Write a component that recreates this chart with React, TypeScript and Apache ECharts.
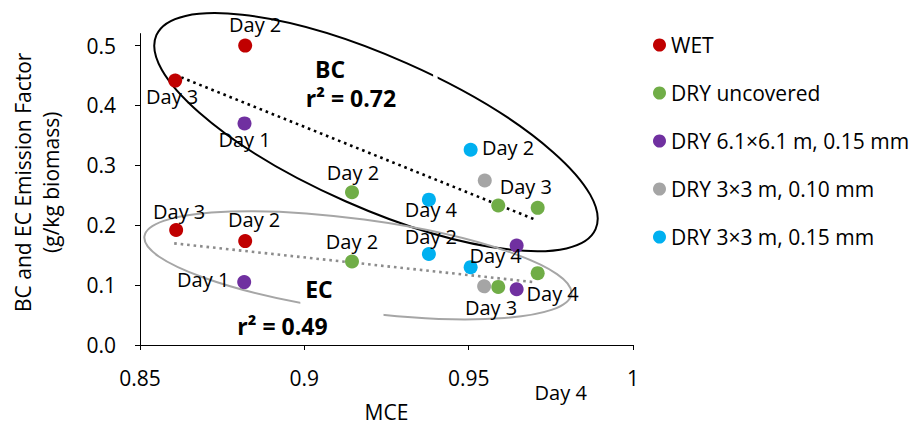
import React, { useEffect, useRef } from "react";
import * as echarts from "echarts";

const FONT = '"Open Sans", "Noto Sans", sans-serif';

const seriesNames = [
  "WET",
  "DRY uncovered",
  "DRY 6.1×6.1 m, 0.15 mm",
  "DRY 3×3 m, 0.10 mm",
  "DRY 3×3 m, 0.15 mm",
];
const seriesColors = ["#C00000", "#70AD47", "#7030A0", "#A5A5A5", "#00B0F0"];

// [MCE, emission factor]
const wetPoints = [[0.882, 0.5], [0.8607, 0.4415], [0.861, 0.192], [0.882, 0.1735]];
const wetLabels = ["Day 2", "Day 3", "Day 3", "Day 2"];
const uncoveredPoints = [[0.9145, 0.255], [0.959, 0.233], [0.971, 0.229], [0.9145, 0.1395], [0.971, 0.12], [0.959, 0.097]];
const uncoveredLabels = ["Day 2", "", "", "Day 2", "Day 4", ""];
const dry61Points = [[0.8818, 0.37], [0.9646, 0.166], [0.8817, 0.105], [0.9646, 0.093]];
const dry61Labels = ["Day 1", "Day 4", "Day 1", "Day 4"];
const dry3x010Points = [[0.9549, 0.2746], [0.9547, 0.098]];
const dry3x010Labels = ["Day 3", "Day 3"];
const dry3x015Points = [[0.9506, 0.326], [0.9379, 0.2427], [0.9379, 0.152], [0.9506, 0.13]];
const dry3x015Labels = ["Day 2", "Day 4", "Day 2", ""];

const bcTrend = [[0.8607, 0.451], [0.9701, 0.2097]];
const ecTrend = [[0.8604, 0.1697], [0.9699, 0.105]];

const xTicks = [0.85, 0.9, 0.95, 1];
const yTicks = [0, 0.1, 0.2, 0.3, 0.4, 0.5];

// label placement (pixel offsets from the marker centre)
const wetLabelOffsets = [[10, -21], [-3, 16], [3, -19], [9, -22]];
const uncoveredLabelOffsets = [[1, -20], null, null, [0, -20], [23, 119], null];
const dry61LabelOffsets = [[0, 16], [-21, 10], [-41, -3], [36, 4]];
const dry3x010LabelOffsets = [[41, 6], [7, 21]];
const dry3x015LabelOffsets = [[37.5, -2], [2, 10], [2, -17], null];

// grouping ellipses (annotation shapes)
const ellipseShapes = [
  { center: [0.9218, 0.3554], rx: 240, ry: 75.5, angle: 23.8, color: "#000000", gaps: [[0.93918, 0.4534, 0.94055, 0.4336]] },
  { center: [0.9163, 0.1331], rx: 215.4, ry: 46.1, angle: 7.7, color: "#A6A6A6", gaps: [[0.89878, 0.0812, 0.92409, 0.0071]] },
];

const allPoints = [wetPoints, uncoveredPoints, dry61Points, dry3x010Points, dry3x015Points];
const allLabels = [wetLabels, uncoveredLabels, dry61Labels, dry3x010Labels, dry3x015Labels];
const allOffsets = [wetLabelOffsets, uncoveredLabelOffsets, dry61LabelOffsets, dry3x010LabelOffsets, dry3x015LabelOffsets];

export default function App() {
  const ref = useRef<HTMLDivElement>(null);
  useEffect(() => {
    if (!ref.current) return;
    const chart = echarts.init(ref.current, undefined, { renderer: "svg" });

    const scatterSeries = seriesNames.map((name, si) => ({
      name,
      type: "scatter",
      z: 3,
      symbol: "circle",
      symbolSize: 14,
      itemStyle: { color: seriesColors[si], opacity: 1 },
      data: allPoints[si].map((p, i) => {
        const txt = allLabels[si][i];
        const off = allOffsets[si][i];
        return {
          value: p,
          label: txt
            ? {
                show: true,
                formatter: txt,
                position: "inside",
                offset: off || [0, 0],
                color: "#000",
                fontSize: 20,
                lineHeight: 19,
                fontFamily: FONT,
              }
            : { show: false },
        };
      }),
    }));

    const trendStyle = (color: string) => ({
      color,
      width: 2.6,
      type: [2.6, 3.9],
      cap: "butt",
    });

    const noteStyle = (text: string) => ({
      text,
      fontSize: 23,
      lineHeight: 22,
      fontWeight: "bold",
      fontFamily: FONT,
      fill: "#000",
      align: "center",
      verticalAlign: "middle",
    });

    chart.setOption({
      animation: false,
      backgroundColor: "#ffffff",
      textStyle: { fontFamily: FONT },
      grid: { left: 140, right: 289, top: 33.6, bottom: 77.7, containLabel: false },
      legend: {
        data: seriesNames,
        orient: "vertical",
        left: 648,
        top: 28,
        icon: "circle",
        itemWidth: 13,
        itemHeight: 13,
        itemGap: 24,
        itemStyle: { opacity: 1 },
        textStyle: { fontSize: 21, lineHeight: 24, color: "#000", fontFamily: FONT },
      },
      xAxis: {
        type: "value",
        min: 0.85,
        max: 1,
        interval: 0.05,
        name: "MCE",
        nameLocation: "middle",
        nameGap: 56,
        nameTextStyle: { fontSize: 21, color: "#000", fontFamily: FONT },
        axisLine: { show: true, lineStyle: { color: "#000", width: 1 } },
        axisTick: { show: true, length: 5, lineStyle: { color: "#000" } },
        axisLabel: { margin: 22, fontSize: 21, color: "#000", fontFamily: FONT, customValues: xTicks },
        splitLine: { show: false },
      },
      yAxis: {
        type: "value",
        min: 0,
        max: 0.52,
        interval: 0.1,
        name: "BC and EC Emission Factor\n(g/kg biomass)",
        nameLocation: "middle",
        nameRotate: 90,
        nameGap: 75,
        nameTextStyle: { fontSize: 21, lineHeight: 28, color: "#000", fontFamily: FONT, padding: [0, 0, 0, 14] },
        axisLine: { show: true, lineStyle: { color: "#000", width: 1 } },
        axisTick: { show: true, length: 5, lineStyle: { color: "#000" }, customValues: yTicks },
        axisLabel: {
          margin: 24,
          fontSize: 21,
          color: "#000",
          fontFamily: FONT,
          customValues: yTicks,
          formatter: (v: number) => v.toFixed(1),
        },
        splitLine: { show: false },
      },
      graphic: [
        { type: "text", z: 10, x: 330, y: 69, style: noteStyle("BC") },
        { type: "text", z: 10, x: 351, y: 98, style: noteStyle("r² = 0.72") },
        { type: "text", z: 10, x: 319, y: 289, style: noteStyle("EC") },
        { type: "text", z: 10, x: 282.5, y: 326, style: noteStyle("r² = 0.49") },
      ],
      series: [
        {
          name: "ellipses",
          type: "custom",
          z: 1,
          clip: false,
          silent: true,
          coordinateSystem: "cartesian2d",
          encode: { x: 0, y: 1 },
          data: ellipseShapes.map((e) => [e.center[0], e.center[1]]),
          renderItem: (params: any, api: any) => {
            const e = ellipseShapes[params.dataIndex];
            const c = api.coord(e.center);
            const children: any[] = [
              {
                type: "ellipse",
                x: c[0],
                y: c[1],
                rotation: (-e.angle * Math.PI) / 180,
                shape: { cx: 0, cy: 0, rx: e.rx, ry: e.ry },
                style: { fill: "none", stroke: e.color, lineWidth: 2 },
              },
            ];
            e.gaps.forEach((g) => {
              const p0 = api.coord([g[0], g[1]]);
              const p1 = api.coord([g[2], g[3]]);
              children.push({
                type: "rect",
                shape: { x: p0[0], y: p0[1], width: p1[0] - p0[0], height: p1[1] - p0[1] },
                style: { fill: "#ffffff" },
              });
            });
            return { type: "group", children };
          },
        },
        {
          name: "BC trend",
          type: "line",
          z: 2,
          symbol: "none",
          silent: true,
          data: bcTrend,
          lineStyle: trendStyle("#000000"),
        },
        {
          name: "EC trend",
          type: "line",
          z: 2,
          symbol: "none",
          silent: true,
          data: ecTrend,
          lineStyle: trendStyle("#8C8C8C"),
        },
        ...scatterSeries,
      ],
    });
    return () => chart.dispose();
  }, []);

  return (
    <div
      ref={ref}
      style={{ position: "fixed", left: 0, top: 0, width: 922, height: 427, background: "#fff" }}
    />
  );
}
